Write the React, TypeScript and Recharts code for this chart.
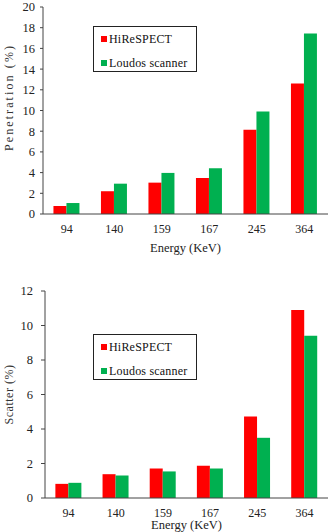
import { BarChart, Bar, XAxis, YAxis, Legend } from 'recharts';

const energies = ['94', '140', '159', '167', '245', '364'];
const penetrationHi = [0.78, 2.2, 3.03, 3.48, 8.13, 12.6];
const penetrationLoudos = [1.06, 2.93, 3.97, 4.42, 9.9, 17.45];
const scatterHi = [0.82, 1.38, 1.71, 1.87, 4.72, 10.9];
const scatterLoudos = [0.88, 1.31, 1.54, 1.71, 3.49, 9.4];
const seriesNames = ['HiReSPECT', 'Loudos scanner'];
const penetrationTicks = [0, 2, 4, 6, 8, 10, 12, 14, 16, 18, 20];
const scatterTicks = [0, 2, 4, 6, 8, 10, 12];
const edgeTicks = [0, 1, 2, 3, 4, 5, 6];

const RED = '#ff0000';
const GREEN = '#00b050';
const AXIS = '#444';
const FONT = 'Liberation Serif, Tinos, DejaVu Serif, serif';

const penetrationData = energies.map((energy, i) => ({
  energy,
  hi: penetrationHi[i],
  loudos: penetrationLoudos[i],
}));

const scatterData = energies.map((energy, i) => ({
  energy,
  hi: scatterHi[i],
  loudos: scatterLoudos[i],
}));

// boxed legend like the original figure
const renderLegend = (rowTop: number) => (props: any) => {
  const { payload } = props;
  return (
    <div
      style={{
        boxSizing: 'border-box',
        width: 104,
        height: 46,
        border: '1px solid #222',
        background: '#fff',
        position: 'relative',
        fontFamily: FONT,
        fontSize: 12,
        color: '#111',
      }}
    >
      {(payload || []).map((entry: any, i: number) => (
        <div
          key={entry.value}
          style={{
            position: 'absolute',
            left: 7,
            top: rowTop + i * 24,
            height: 14,
            display: 'flex',
            alignItems: 'center',
            whiteSpace: 'nowrap',
          }}
        >
          <span style={{ width: 6, height: 6, background: entry.color, marginRight: 2 }} />
          <span style={{ letterSpacing: 0.2 }}>{entry.value}</span>
        </div>
      ))}
    </div>
  );
};

type PanelProps = {
  data: { energy: string; hi: number; loudos: number }[];
  top: number;
  marginTop: number;
  yWidth: number;
  yMax: number;
  yTicks: number[];
  yTickSize: number;
  yTickMargin: number;
  yLabel: string;
  yLabelDy: number;
  yLabelSpacing: number;
  catHeight: number;
  xLabelOffset: number;
  legendTop: number;
  legendRowTop: number;
};

function Panel(p: PanelProps) {
  return (
    <div style={{ position: 'absolute', left: 0, top: p.top }}>
      <BarChart
        width={336}
        height={266}
        data={p.data}
        margin={{ top: p.marginTop, right: 8, left: 0, bottom: 0 }}
        barCategoryGap="22%"
        barGap={0}
      >
        <XAxis
          xAxisId={1}
          type="number"
          domain={[0, 6]}
          ticks={edgeTicks}
          allowDataOverflow
          height={4}
          tickSize={4}
          tick={false}
          stroke={AXIS}
        />
        <XAxis
          xAxisId={2}
          dataKey="energy"
          height={p.catHeight}
          axisLine={false}
          tickLine={false}
          tickSize={4}
          tickMargin={2}
          interval={0}
          tick={{ fontSize: 12, fill: '#222', fontFamily: FONT }}
          label={{
            value: 'Energy (KeV)',
            position: 'insideBottom',
            offset: p.xLabelOffset,
            style: { fontSize: 12.5, fill: '#222', fontFamily: FONT },
          }}
        />
        <YAxis
          width={p.yWidth}
          domain={[0, p.yMax]}
          ticks={p.yTicks}
          interval={0}
          tickSize={p.yTickSize}
          tickMargin={p.yTickMargin}
          stroke={AXIS}
          tick={{ fontSize: 12.5, fill: '#222', fontFamily: FONT }}
          label={{
            value: p.yLabel,
            angle: -90,
            position: 'insideLeft',
            offset: 9,
            dy: p.yLabelDy,
            style: {
              textAnchor: 'middle',
              fontSize: 12,
              fill: '#333',
              fontFamily: FONT,
              letterSpacing: p.yLabelSpacing,
            },
          }}
        />
        <Legend
          layout="horizontal"
          align="center"
          verticalAlign="middle"
          content={renderLegend(p.legendRowTop)}
          wrapperStyle={{ left: 93, top: p.legendTop, width: 104, height: 46 }}
        />
        <Bar
          xAxisId={2}
          dataKey="hi"
          name={seriesNames[0]}
          fill={RED}
          isAnimationActive={false}
        />
        <Bar
          xAxisId={2}
          dataKey="loudos"
          name={seriesNames[1]}
          fill={GREEN}
          isAnimationActive={false}
        />
      </BarChart>
    </div>
  );
}

export default function App() {
  return (
    <div
      style={{
        position: 'absolute',
        left: 0,
        top: 0,
        width: 336,
        height: 532,
        overflow: 'hidden',
        background: '#fff',
        fontFamily: FONT,
      }}
    >
      <Panel
        data={penetrationData}
        top={0}
        marginTop={7}
        yWidth={43}
        yMax={20}
        yTicks={penetrationTicks}
        yTickSize={3}
        yTickMargin={5}
        yLabel="Penetration (%)"
        yLabelDy={-13}
        yLabelSpacing={2.1}
        catHeight={48}
        xLabelOffset={14}
        legendTop={26}
        legendRowTop={5}
      />
      <Panel
        data={scatterData}
        top={266}
        marginTop={25}
        yWidth={45}
        yMax={12}
        yTicks={scatterTicks}
        yTickSize={4}
        yTickMargin={8}
        yLabel="Scatter (%)"
        yLabelDy={0}
        yLabelSpacing={0.5}
        catHeight={30}
        xLabelOffset={3}
        legendTop={68}
        legendRowTop={5}
      />
    </div>
  );
}
